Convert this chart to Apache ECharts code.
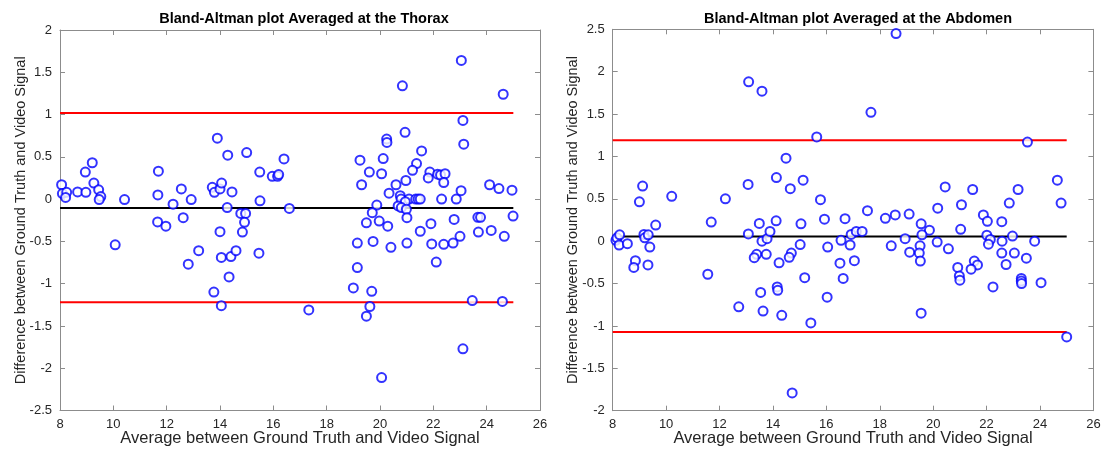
<!DOCTYPE html>
<html>
<head>
    <meta http-equiv="Content-Type" content="text/html; charset=utf-8" />
    <title>Bland-Altman</title>
    <script src="https://cdn.jsdelivr.net/npm/echarts@6/dist/echarts.min.js"></script>
    <style>
        html, body { margin: 0; padding: 0; background: #fff; }
        #div1 { width: 1102px; height: 450px; }
    </style>
</head>
<body>
    <div id="div1"></div>
    <script type="text/javascript">
        // thorax: average vs difference
        var thoraxAvg = [8.06, 8.09, 8.25, 8.21, 8.66, 8.97, 8.95, 9.21, 9.27, 9.45, 9.53, 9.47, 10.42, 10.07,
            11.69, 11.67, 11.66, 11.97, 12.24, 12.55, 12.62, 12.92, 13.2, 12.81, 13.9, 14.29, 15.0, 13.71, 13.79,
            14.0, 14.06, 14.45, 14.27, 14.0, 14.05, 14.41, 14.6, 14.78, 14.96, 14.92, 14.84, 15.49, 15.5, 15.46,
            15.96, 16.16, 16.2, 16.4, 16.6, 14.34, 13.77, 14.05, 20.25, 20.26, 20.94, 23.14, 21.56, 19.25, 20.12,
            21.37, 19.6, 20.06, 21.22, 21.87, 21.81, 22.16, 22.27, 22.44, 22.39, 19.31, 20.6, 20.97, 20.34, 20.76,
            20.79, 21.09, 20.95, 21.34, 21.43, 21.51, 22.31, 22.86, 23.04, 24.11, 24.46, 24.95, 19.88, 20.68, 20.8,
            20.99, 19.71, 19.49, 19.97, 20.29, 21.01, 21.91, 22.78, 23.67, 23.77, 24.99, 21.51, 23.0, 23.69, 24.17,
            24.66, 19.15, 19.74, 20.41, 21.01, 21.94, 22.39, 22.74, 22.11, 19.15, 19.0, 19.69, 19.62, 19.49, 17.33,
            23.46, 24.59, 23.11, 20.06, 23.05, 20.84, 24.62, 23.11];
        var thoraxDiff = [0.17, 0.065, 0.08, 0.02, 0.085, 0.08, 0.32, 0.43, 0.19, 0.11, 0.03, -0.005, -0.005, -0.54,
            0.33, 0.05, -0.27, -0.32, -0.06, 0.12, -0.22, -0.005, -0.61, -0.77, 0.72, 0.52, 0.55, 0.14, 0.08,
            0.12, 0.19, 0.085, -0.10, -0.385, -0.69, -0.68, -0.61, -0.17, -0.17, -0.275, -0.39, 0.32, -0.02, -0.64,
            0.27, 0.27, 0.29, 0.475, -0.11, -0.92, -1.10, -1.26, 0.71, 0.67, 0.79, 0.65, 0.57, 0.46, 0.48,
            0.42, 0.32, 0.30, 0.34, 0.32, 0.25, 0.295, 0.285, 0.30, 0.195, 0.17, 0.17, 0.22, 0.07, 0.04,
            0.0, 0.0, -0.03, 0.0, 0.0, 0.0, 0.0, 0.0, 0.10, 0.17, 0.125, 0.105, -0.07, -0.08, -0.1,
            -0.12, -0.16, -0.28, -0.26, -0.32, -0.22, -0.29, -0.24, -0.215, -0.215, -0.2, -0.38, -0.44, -0.39, -0.37,
            -0.44, -0.52, -0.50, -0.57, -0.52, -0.53, -0.535, -0.52, -0.745, -0.81, -1.05, -1.09, -1.27, -1.385, -1.31,
            -1.20, -1.21, -1.77, -2.11, 1.64, 1.34, 1.24, 0.93];

        // abdomen: average vs difference
        var abdomenAvg = [8.12, 8.16, 8.26, 8.24, 8.55, 8.85, 8.79, 9.0, 9.12, 9.17, 9.2, 9.33, 9.39, 9.32, 9.61,
            10.21, 11.56, 11.69, 12.22, 13.07, 13.08, 13.49, 13.59, 13.78, 13.89, 14.12, 13.39, 13.3, 13.75, 14.23,
            14.69, 14.61, 14.13, 14.65, 15.13, 15.05, 15.02, 15.19, 14.16, 14.18, 13.54, 12.72, 15.78, 15.93, 16.05,
            16.55, 16.51, 16.63, 16.03, 16.7, 14.49, 13.63, 14.33, 15.42, 14.72, 13.09, 13.59, 15.64, 18.61, 17.67,
            23.53, 24.65, 20.45, 21.48, 23.18, 24.79, 22.85, 21.06, 17.54, 20.17, 19.1, 18.58, 18.21, 21.88, 22.03,
            22.57, 19.55, 19.86, 19.58, 18.95, 21.03, 16.93, 17.12, 17.34, 16.89, 18.43, 19.51, 19.48, 19.52, 19.12,
            20.15, 20.57, 22.01, 22.14, 22.07, 22.58, 22.97, 23.8, 22.57, 23.04, 23.49, 22.73, 17.05, 20.92, 20.98,
            21.0, 21.54, 21.66, 21.42, 22.24, 23.3, 23.3, 23.31, 24.04, 19.55, 25.0];
        var abdomenDiff = [0.01, 0.04, 0.075, -0.045, -0.03, -0.23, -0.31, 0.465, 0.65, 0.08, 0.04, 0.075, -0.07, -0.28, 0.19,
            0.53, -0.39, 0.225, 0.50, 0.67, 0.085, 0.21, 0.0, 0.03, 0.115, 0.24, -0.155, -0.195, -0.155, -0.255,
            -0.14, -0.19, 0.75, 0.62, 0.72, 0.205, -0.04, -0.43, -0.54, -0.58, -0.605, -0.775, 0.49, 0.26, -0.07,
            0.01, -0.26, -0.44, -0.66, 0.265, 0.98, -0.825, -0.875, -0.965, -1.79, 1.88, 1.77, 1.23, 2.45, 1.52,
            1.17, 0.72, 0.64, 0.61, 0.61, 0.45, 0.45, 0.43, 0.36, 0.39, 0.32, 0.31, 0.27, 0.31, 0.235,
            0.23, 0.205, 0.13, 0.075, 0.03, 0.14, 0.08, 0.115, 0.115, -0.045, -0.055, -0.055, -0.14, -0.235, -0.13,
            -0.01, -0.09, 0.07, 0.02, -0.035, 0.0, 0.06, 0.0, -0.14, -0.14, -0.2, -0.275, -0.23, -0.31, -0.41,
            -0.46, -0.235, -0.28, -0.33, -0.54, -0.44, -0.47, -0.50, -0.49, -0.85, -1.13];

        // mean and limits of agreement, drawn from x=8 to x=25
        var lineRange = [8, 25];
        var thoraxLines = { mean: -0.105, upper: 1.017, lower: -1.22 };
        var abdomenLines = { mean: 0.056, upper: 1.19, lower: -1.07 };

        var titles = ['Bland-Altman plot Averaged at the Thorax', 'Bland-Altman plot Averaged at the Abdomen'];
        var xName = 'Average between Ground Truth and Video Signal';
        var yName = 'Difference between Ground Truth and Video Signal';

        var myChart = echarts.init(document.getElementById('div1'), null, { renderer: 'canvas' });

        var font = 'Liberation Sans, Arial, Helvetica, sans-serif';
        var axisGrey = '#8c8c8c';
        var textCol = '#262626';

        function zip(a, b) {
            var out = [];
            for (var i = 0; i < a.length; i++) out.push([a[i], b[i]]);
            return out;
        }

        // axis pairs: grid 0 -> axes 0,1 ; grid 1 -> axes 2,3
        function hline(v, color, idx) {
            return {
                type: 'line', xAxisIndex: idx * 2, yAxisIndex: idx * 2,
                data: [[lineRange[0], v], [lineRange[1], v]],
                symbol: 'none', silent: true, z: 3,
                lineStyle: { color: color, width: 2 }
            };
        }

        function xAxes(idx) {
            return [{
                type: 'value', gridIndex: idx, min: 8, max: 26, interval: 2, position: 'bottom',
                axisLine: { show: true, onZero: false, lineStyle: { color: axisGrey, width: 1 } },
                axisTick: { show: true, inside: true, length: 5, lineStyle: { color: axisGrey } },
                axisLabel: { color: textCol, fontSize: 13, fontFamily: font, margin: 7 },
                splitLine: { show: false },
                name: xName, nameLocation: 'middle', nameGap: 19, nameMoveOverlap: false,
                nameTextStyle: { color: textCol, fontSize: 16.5, fontFamily: font }
            }, {
                type: 'value', gridIndex: idx, min: 8, max: 26, interval: 2, position: 'top',
                axisLine: { show: true, onZero: false, lineStyle: { color: axisGrey, width: 1 } },
                axisTick: { show: true, inside: true, length: 5, lineStyle: { color: axisGrey } },
                axisLabel: { show: false }, splitLine: { show: false }
            }];
        }

        function yAxes(idx, min, max) {
            return [{
                type: 'value', gridIndex: idx, min: min, max: max, interval: 0.5, position: 'left',
                axisLine: { show: true, onZero: false, lineStyle: { color: axisGrey, width: 1 } },
                axisTick: { show: true, inside: true, length: 5, lineStyle: { color: axisGrey } },
                axisLabel: { color: textCol, fontSize: 13, fontFamily: font, margin: 8 },
                splitLine: { show: false },
                name: yName, nameLocation: 'middle', nameGap: 32, nameRotate: 90, nameMoveOverlap: false,
                nameTextStyle: { color: textCol, fontSize: 14.5, fontFamily: font }
            }, {
                type: 'value', gridIndex: idx, min: min, max: max, interval: 0.5, position: 'right',
                axisLine: { show: true, onZero: false, lineStyle: { color: axisGrey, width: 1 } },
                axisTick: { show: true, inside: true, length: 5, lineStyle: { color: axisGrey } },
                axisLabel: { show: false }, splitLine: { show: false }
            }];
        }

        function scatter(idx, xs, ys) {
            return {
                type: 'scatter', xAxisIndex: idx * 2, yAxisIndex: idx * 2,
                data: zip(xs, ys), symbol: 'emptyCircle', symbolSize: 9, z: 4,
                itemStyle: { color: '#0000ff', borderColor: '#0000ff', borderWidth: 1.8 }
            };
        }

        option = {
            animation: false,
            backgroundColor: '#fff',
            title: [{
                text: titles[0], left: 299, top: 6, textAlign: 'center',
                textStyle: { fontSize: 14.5, fontWeight: 'bold', color: '#000', fontFamily: font }
            }, {
                text: titles[1], left: 853, top: 6, textAlign: 'center',
                textStyle: { fontSize: 14.5, fontWeight: 'bold', color: '#000', fontFamily: font }
            }],
            grid: [
                { left: 60, top: 30, width: 480, height: 380.5, containLabel: false, outerBoundsMode: 'none' },
                { left: 612.7, top: 29.3, width: 480.7, height: 381.4, containLabel: false, outerBoundsMode: 'none' }
            ],
            xAxis: xAxes(0).concat(xAxes(1)),
            yAxis: yAxes(0, -2.5, 2).concat(yAxes(1, -2, 2.5)),
            series: [
                hline(thoraxLines.upper, '#ff0000', 0),
                hline(thoraxLines.lower, '#ff0000', 0),
                hline(thoraxLines.mean, '#000000', 0),
                scatter(0, thoraxAvg, thoraxDiff),
                hline(abdomenLines.upper, '#ff0000', 1),
                hline(abdomenLines.lower, '#ff0000', 1),
                hline(abdomenLines.mean, '#000000', 1),
                scatter(1, abdomenAvg, abdomenDiff)
            ]
        };
        myChart.setOption(option);
    </script>
</body>
</html>
